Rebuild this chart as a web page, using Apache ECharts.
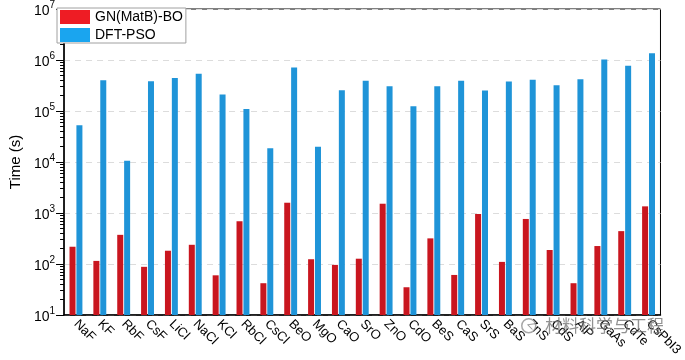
<!DOCTYPE html>
<html>
<head>
<meta charset="utf-8">
<script src="https://cdn.jsdelivr.net/npm/echarts@6/dist/echarts.min.js"></script>
<style>html,body{margin:0;padding:0;background:#fff;}#c{width:685px;height:360px;}</style>
</head>
<body>
<div id="c"></div>
<script>
const categories = ['NaF','KF','RbF','CsF','LiCl','NaCl','KCl','RbCl','CsCl','BeO','MgO','CaO','SrO','ZnO','CdO','BeS','CaS','SrS','BaS','ZnS','CdS','AlP','GaAs','CdTe','CsPbI3'];
const gnBO = [218,115,373,88,182,238,60,689,42,1590,124,96,127,1520,35,318,61,957,110,764,188,42,225,441,1350];
const dftPSO = [52500,399000,10600,382000,443000,539000,210000,110000,18700,714000,19900,255000,394000,305000,124000,305000,394000,252000,377000,412000,319000,418000,1020000,771000,1355000];
const yMajor = [10,100,1000,10000,100000,1000000,10000000];
const seriesNames = ['GN(MatB)-BO','DFT-PSO'];

const minorTicks = [];
for (let d = 10; d < 1e7; d *= 10) for (let k = 2; k <= 9; k++) minorTicks.push(d * k);

const font = '"Liberation Sans", Arial, sans-serif';
const chart = echarts.init(document.getElementById('c'));
chart.setOption({
  animation: false,
  textStyle: {fontFamily: font},
  grid: {left: 56, right: 12, top: 7, bottom: 45, show: true, borderColor: '#000', borderWidth: 1},
  legend: {
    orient: 'vertical', left: 57, top: 8,
    itemWidth: 30, itemHeight: 14, itemGap: 4,
    padding: [2, 3, 1, 3],
    borderColor: '#a0a0a0', borderWidth: 1, borderRadius: 0,
    backgroundColor: '#fff',
    textStyle: {fontSize: 14, color: '#000', fontFamily: font},
    data: [
      {name: seriesNames[0], icon: 'rect', itemStyle: {color: '#ee1c24'}},
      {name: seriesNames[1], icon: 'rect', itemStyle: {color: '#1aa5ef'}}
    ]
  },
  xAxis: {
    type: 'category', data: categories,
    axisLine: {lineStyle: {color: '#000', width: 1.5}},
    axisTick: {alignWithLabel: true, length: 5, lineStyle: {color: '#000'}},
    axisLabel: {rotate: -45, fontSize: 13, color: '#000', margin: 7, interval: 0, fontFamily: font}
  },
  yAxis: [{
    type: 'log', logBase: 10, min: 10, max: 1e7,
    name: 'Time (s)', nameLocation: 'middle', nameGap: 36,
    nameTextStyle: {fontSize: 15, color: '#000', fontFamily: font},
    axisLine: {show: true, lineStyle: {color: '#000', width: 1.5}},
    axisTick: {show: true, length: 8, lineStyle: {color: '#000'}, customValues: yMajor},
    splitLine: {show: true, lineStyle: {color: '#dcdcdc', type: [6, 5], width: 1}},
    axisLabel: {
      customValues: yMajor,
      margin: 9, color: '#000',
      formatter: v => '{b|10}{s|' + Math.round(Math.log10(v)) + '}',
      rich: {
        b: {fontSize: 14, color: '#000', fontFamily: font, verticalAlign: 'bottom', lineHeight: 18},
        s: {fontSize: 10, color: '#000', fontFamily: font, verticalAlign: 'top', lineHeight: 18, padding: [0, 0, 6, 0]}
      }
    }
  }, {
    type: 'log', logBase: 10, min: 10, max: 1e7, position: 'left',
    axisLine: {show: false},
    axisTick: {show: true, length: 4, lineStyle: {color: '#000'}, customValues: minorTicks},
    axisLabel: {show: false},
    splitLine: {show: false}
  }],
  series: [
    {name: seriesNames[0], type: 'bar', data: gnBO, barWidth: 6, barGap: '15%', itemStyle: {color: '#c9161f'}},
    {name: seriesNames[1], type: 'bar', data: dftPSO, barWidth: 6, barGap: '15%', itemStyle: {color: '#1f94d8'}}
  ],
  graphic: [{
    type: 'circle', left: 521, top: 318, z: 100,
    shape: {r: 7},
    style: {fill: 'rgba(255,255,255,0.6)', stroke: 'rgba(130,130,130,0.7)', lineWidth: 1.5}
  }, {
    type: 'text', left: 545, top: 317, z: 100,
    style: {text: '材料科学与工程', fontSize: 17, fill: 'rgba(110,110,110,0.75)', fontFamily: '"Noto Sans CJK SC", sans-serif'}
  }]
});
</script>
</body>
</html>
